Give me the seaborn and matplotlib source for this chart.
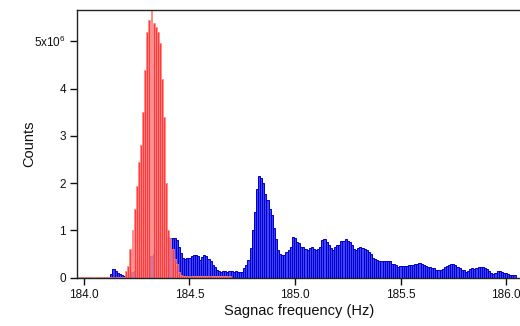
import numpy as np
import pandas as pd
import matplotlib
matplotlib.use("Agg")
import matplotlib.pyplot as plt
import seaborn as sns

# ---------------- data (counts in units of 1e6, 0.01 Hz bins) ----------------
bin_width = 0.01
blue_start = 184.125
blue_counts = [
    0.08, 0.18, 0.15, 0.10, 0.08, 0.06, 0.04, 0.03, 0.05, 0.09,
    0.12, 0.15, 0.20, 0.28, 0.33, 0.38, 0.42, 0.44, 0.45, 0.46,
    0.50, 0.60, 0.75, 0.94, 0.88, 0.86, 0.85, 0.86, 0.85, 0.85,
    0.84, 0.80, 0.66, 0.52, 0.41, 0.40, 0.42, 0.41, 0.46, 0.48,
    0.48, 0.46, 0.38, 0.43, 0.48, 0.46, 0.40, 0.35, 0.28, 0.22,
    0.17, 0.14, 0.12, 0.14, 0.14, 0.12, 0.14, 0.14, 0.13, 0.14,
    0.12, 0.13, 0.13, 0.20, 0.27, 0.37, 0.62, 1.00, 1.40, 1.87,
    2.15, 2.10, 2.00, 1.78, 1.64, 1.45, 1.32, 1.06, 0.83, 0.58,
    0.51, 0.48, 0.48, 0.55, 0.58, 0.65, 0.87, 0.85, 0.76, 0.74,
    0.65, 0.65, 0.60, 0.58, 0.62, 0.64, 0.60, 0.58, 0.60, 0.64,
    0.80, 0.81, 0.76, 0.69, 0.62, 0.58, 0.65, 0.69, 0.69, 0.78,
    0.78, 0.83, 0.77, 0.76, 0.69, 0.60, 0.58, 0.62, 0.65, 0.63,
    0.60, 0.58, 0.55, 0.50, 0.41, 0.39, 0.37, 0.35, 0.35, 0.35,
    0.35, 0.35, 0.35, 0.30, 0.29, 0.27, 0.23, 0.25, 0.25, 0.25,
    0.25, 0.27, 0.28, 0.27, 0.29, 0.30, 0.32, 0.30, 0.27, 0.25,
    0.23, 0.22, 0.20, 0.20, 0.16, 0.16, 0.16, 0.18, 0.22, 0.25,
    0.28, 0.30, 0.29, 0.27, 0.23, 0.20, 0.16, 0.16, 0.13, 0.15,
    0.18, 0.20, 0.18, 0.21, 0.22, 0.22, 0.22, 0.20, 0.18, 0.15,
    0.11, 0.08, 0.11, 0.14, 0.14, 0.12, 0.11, 0.10, 0.08, 0.06,
    0.05, 0.05,
]
red_start = 183.965
red_counts = [0.02] * 23 + [
    0.15, 0.25, 0.60, 1.00, 1.45, 1.95, 2.45, 2.80, 3.50, 4.40,
    5.20, 5.45, 5.70, 5.38, 5.30, 5.20, 4.96, 4.20, 3.40, 2.00,
    1.00, 0.85, 0.60, 0.40, 0.30, 0.12, 0.06,
] + [0.03] * 23

x_ticks = [184.0, 184.5, 185.0, 185.5, 186.0]
x_tick_labels = ["184.0", "184.5", "185.0", "185.5", "186.0"]
y_ticks = [0, 1, 2, 3, 4, 5]
y_tick_labels = ["0", "1", "2", "3", "4", "5x10$^6$"]


def to_frame(start, counts):
    counts = np.asarray(counts, dtype=float)
    centers = start + bin_width * (np.arange(len(counts)) + 0.5)
    df = pd.DataFrame({"freq": centers, "counts": counts * 1e6})
    brange = (start, start + bin_width * len(counts))
    return df, brange


blue_df, blue_range = to_frame(blue_start, blue_counts)
red_df, red_range = to_frame(red_start, red_counts)

# ---------------- plot ----------------
sns.set_style("ticks")
plt.rcParams["font.family"] = ["Liberation Sans", "DejaVu Sans"]
plt.rcParams["mathtext.default"] = "regular"

fig = plt.figure(figsize=(5.2, 3.26), dpi=100)
ax = fig.add_axes([0.148, 0.148, 0.856, 0.821])

sns.histplot(data=blue_df, x="freq", weights="counts",
             binwidth=bin_width, binrange=blue_range,
             color="#4040ff", edgecolor="#0000c8", linewidth=0.7,
             alpha=1.0, ax=ax)
sns.histplot(data=red_df, x="freq", weights="counts",
             binwidth=bin_width, binrange=red_range,
             color="#ff3c3c", edgecolor="#ff8a8a", linewidth=0.5,
             alpha=1.0, shrink=0.9, ax=ax)

ax.set_xlim(183.967, 186.076)
ax.set_ylim(0, 5.66e6)
ax.set_xticks(x_ticks)
ax.set_xticklabels(x_tick_labels)
ax.set_yticks([v * 1e6 for v in y_ticks])
ax.set_yticklabels(y_tick_labels)

ax.set_xlabel("Sagnac frequency (Hz)", fontsize=10.5, labelpad=2, color="#111111")
ax.set_ylabel("Counts", fontsize=10.5, color="#111111")
ax.yaxis.set_label_coords(-0.092, 0.5)
ax.tick_params(axis="both", direction="out", length=5, width=1,
               labelsize=8.5, colors="#111111", pad=3)

for side in ["left", "bottom", "top"]:
    ax.spines[side].set_visible(True)
    ax.spines[side].set_linewidth(1.0)
    ax.spines[side].set_color("#222222")
ax.spines["right"].set_visible(False)

fig.savefig("out.png", dpi=100)
